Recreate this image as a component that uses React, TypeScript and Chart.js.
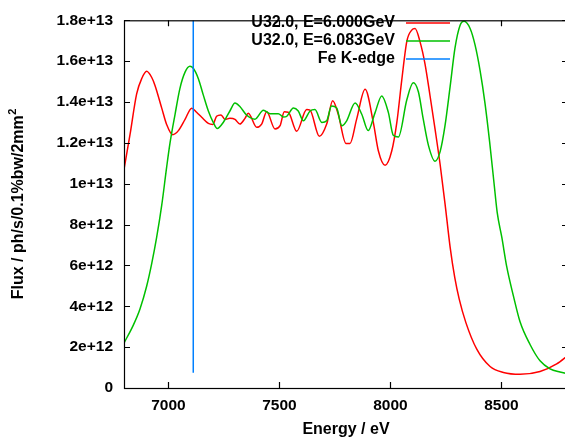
import { useEffect, useRef } from 'react';
import { Chart, registerables } from 'chart.js';

Chart.register(...registerables);

// Flux values are in units of 1e12 ph/s/0.1%bw/2mm^2
const FLUX_UNIT = 1e12;

const redEnergy = [
  6800, 6827, 6857, 6880, 6902, 6925, 6940, 6970, 6992, 7019, 7045, 7075, 7105, 7127, 7150, 7180,
  7200, 7217, 7237, 7255, 7277, 7300, 7322, 7345, 7360, 7398, 7420, 7443, 7480, 7503, 7522, 7540,
  7578, 7623, 7638, 7680, 7713, 7740, 7765, 7800, 7818, 7848, 7886, 7923, 7946, 7976, 8006, 8029,
  8051, 8074, 8096, 8111, 8133, 8156, 8179, 8201, 8224, 8246, 8269, 8290, 8310, 8340, 8389, 8449,
  8509, 8584, 8674, 8749, 8800,
];
const redFlux = [
  10.7, 12.4, 14.4, 15.15, 15.5, 15.2, 14.8, 13.7, 12.9, 12.4, 12.6, 13.15, 13.7, 13.5, 13.25, 12.95,
  12.9, 13.3, 13.37, 13.15, 13.2, 13.15, 12.92, 13.2, 13.45, 12.76, 12.92, 13.52, 12.68, 12.84, 13.52, 13.5,
  12.57, 13.63, 13.6, 12.32, 12.92, 14.06, 13.4, 11.97, 11.97, 13.16, 14.62, 13.0, 11.6, 10.9, 11.6, 13.0,
  15.06, 16.97, 17.52, 17.6, 16.97, 15.86, 14.27, 12.68, 10.94, 9.03, 6.9, 5.4, 4.35, 3.2, 1.9, 1.05,
  0.76, 0.67, 0.81, 1.18, 1.6,
];

const greenEnergy = [
  6800, 6842, 6872, 6902, 6925, 6947, 6970, 6992, 7007, 7030, 7052, 7075, 7097, 7112, 7135, 7157,
  7180, 7202, 7220, 7247, 7277, 7300, 7322, 7353, 7390, 7428, 7458, 7495, 7518, 7533, 7563, 7585,
  7608, 7638, 7660, 7691, 7713, 7735, 7758, 7781, 7803, 7841, 7871, 7900, 7931, 7961, 7991, 8013,
  8036, 8074, 8103, 8126, 8148, 8171, 8201, 8224, 8246, 8269, 8291, 8314, 8332, 8359, 8381, 8404,
  8426, 8447, 8468, 8481, 8502, 8524, 8554, 8584, 8629, 8674, 8719, 8764, 8800,
];
const greenFlux = [
  2.2, 3.08, 3.87, 4.98, 6.1, 7.37, 8.95, 10.8, 11.97, 13.4, 14.67, 15.46, 15.75, 15.65, 15.14, 14.35,
  13.56, 13.0, 12.7, 13.0, 13.56, 13.95, 13.78, 13.35, 13.16, 13.6, 13.43, 13.43, 13.27, 13.3, 13.71, 13.56,
  13.08, 13.56, 13.63, 13.0, 13.08, 13.8, 13.71, 12.84, 13.08, 13.95, 13.4, 12.6, 13.48, 14.3, 13.48, 12.37,
  12.29, 14.11, 14.94, 14.5, 13.16, 11.89, 11.1, 11.57, 12.84, 14.75, 16.65, 17.76, 17.95, 17.6, 16.81, 15.54,
  13.95, 12.05, 9.9, 8.6, 7.37, 5.94, 4.51, 3.24, 2.13, 1.33, 0.94, 0.78, 0.7,
];

const feEdgeEnergy = 7112;
const feEdgeFlux = [0.75, 18];

const seriesLabels = ['U32.0, E=6.000GeV', 'U32.0, E=6.083GeV', 'Fe K-edge'];
const seriesColors = ['#ff0000', '#00c000', '#0080ff'];

const xTicks = [7000, 7500, 8000, 8500];
const yTicks = [0, 2, 4, 6, 8, 10, 12, 14, 16, 18];
const yTickLabels = ['0', '2e+12', '4e+12', '6e+12', '8e+12', '1e+13', '1.2e+13', '1.4e+13', '1.6e+13', '1.8e+13'];

const xTitle = 'Energy / eV';
const yTitleMain = 'Flux / ph/s/0.1%bw/2mm';
const yTitleSup = '2';

const FONT = "'Liberation Sans', Arial, Helvetica, sans-serif";

const framePlugin = {
  id: 'gnuFrame',
  afterDatasetsDraw(chart: any) {
    const { ctx, chartArea, scales } = chart;
    const { left, right, top, bottom } = chartArea;
    const x = scales.x;
    const y = scales.y;
    ctx.save();
    ctx.strokeStyle = '#000';
    ctx.lineWidth = 1.2;
    ctx.strokeRect(left + 0.5, top + 0.5, right - left, bottom - top);
    const tl = 6;
    ctx.beginPath();
    yTicks.forEach((v) => {
      const py = Math.round(y.getPixelForValue(v * FLUX_UNIT)) + 0.5;
      ctx.moveTo(left, py);
      ctx.lineTo(left + tl, py);
      ctx.moveTo(right, py);
      ctx.lineTo(right - tl, py);
    });
    xTicks.forEach((v) => {
      const px = Math.round(x.getPixelForValue(v)) + 0.5;
      ctx.moveTo(px, bottom);
      ctx.lineTo(px, bottom - tl);
      ctx.moveTo(px, top);
      ctx.lineTo(px, top + tl);
    });
    ctx.stroke();

    // legend
    ctx.font = `bold 16px ${FONT}`;
    ctx.fillStyle = '#000';
    ctx.textAlign = 'right';
    ctx.textBaseline = 'middle';
    const rows = [23, 41, 59];
    seriesLabels.forEach((lab, i) => {
      ctx.fillText(lab, 395, rows[i]);
      ctx.beginPath();
      ctx.strokeStyle = seriesColors[i];
      ctx.lineWidth = 1.5;
      ctx.moveTo(406, rows[i]);
      ctx.lineTo(450, rows[i]);
      ctx.stroke();
    });

    // x title
    ctx.fillStyle = '#000';
    ctx.textAlign = 'center';
    ctx.textBaseline = 'middle';
    ctx.font = `bold 16px ${FONT}`;
    ctx.fillText(xTitle, (left + right) / 2, 430);

    // y title with superscript
    ctx.translate(19, (top + bottom) / 2);
    ctx.rotate(-Math.PI / 2);
    ctx.font = `bold 16px ${FONT}`;
    const w1 = ctx.measureText(yTitleMain).width;
    ctx.font = `bold 11px ${FONT}`;
    const w2 = ctx.measureText(yTitleSup).width;
    const start = -(w1 + w2) / 2;
    ctx.textAlign = 'left';
    ctx.font = `bold 16px ${FONT}`;
    ctx.fillText(yTitleMain, start, 0);
    ctx.font = `bold 11px ${FONT}`;
    ctx.fillText(yTitleSup, start + w1 + 0.5, -6);
    ctx.restore();
  },
};

export default function App() {
  const canvasRef = useRef<HTMLCanvasElement | null>(null);

  useEffect(() => {
    if (!canvasRef.current) return;
    const toPoints = (xs: number[], ys: number[]) => xs.map((e, i) => ({ x: e, y: ys[i] * FLUX_UNIT }));
    const chart = new Chart(canvasRef.current, {
      type: 'line',
      data: {
        datasets: [
          {
            label: seriesLabels[0],
            data: toPoints(redEnergy, redFlux),
            borderColor: seriesColors[0],
            borderWidth: 1.5,
            pointRadius: 0,
            cubicInterpolationMode: 'monotone',
            fill: false,
            order: 2,
          },
          {
            label: seriesLabels[1],
            data: toPoints(greenEnergy, greenFlux),
            borderColor: seriesColors[1],
            borderWidth: 1.5,
            pointRadius: 0,
            cubicInterpolationMode: 'monotone',
            fill: false,
            order: 1,
          },
          {
            label: seriesLabels[2],
            data: toPoints([feEdgeEnergy, feEdgeEnergy], feEdgeFlux),
            borderColor: seriesColors[2],
            borderWidth: 1.5,
            pointRadius: 0,
            tension: 0,
            fill: false,
            order: 0,
          },
        ],
      },
      options: {
        responsive: false,
        animation: false,
        devicePixelRatio: 1,
        layout: { padding: { left: 0, right: 12, top: 10, bottom: 0 } },
        plugins: { legend: { display: false }, tooltip: { enabled: false } },
        scales: {
          x: {
            type: 'linear',
            min: 6800,
            max: 8800,
            grid: { display: false, drawTicks: false },
            border: { display: false },
            afterBuildTicks: (s: any) => {
              s.ticks = xTicks.map((v) => ({ value: v }));
            },
            afterFit: (s: any) => {
              s.height = 59;
            },
            ticks: {
              padding: 8,
              color: '#000',
              autoSkip: false,
              maxRotation: 0,
              font: { family: FONT, size: 15.5, weight: 'bold' },
              callback: (v: any) => String(v),
            },
          },
          y: {
            type: 'linear',
            min: 0,
            max: 18 * FLUX_UNIT,
            grid: { display: false, drawTicks: false },
            border: { display: false },
            afterBuildTicks: (s: any) => {
              s.ticks = yTicks.map((v) => ({ value: v * FLUX_UNIT }));
            },
            afterFit: (s: any) => {
              s.width = 124;
            },
            ticks: {
              padding: 11,
              color: '#000',
              autoSkip: false,
              font: { family: FONT, size: 15.5, weight: 'bold' },
              callback: (_v: any, i: number) => yTickLabels[i],
            },
          },
        },
      } as any,
      plugins: [framePlugin],
    });
    return () => chart.destroy();
  }, []);

  return (
    <div
      style={{
        position: 'absolute',
        left: 0,
        top: 0,
        width: 565,
        height: 447,
        overflow: 'hidden',
        background: '#fff',
      }}
    >
      <canvas ref={canvasRef} width={580} height={447} style={{ display: 'block' }} />
    </div>
  );
}
